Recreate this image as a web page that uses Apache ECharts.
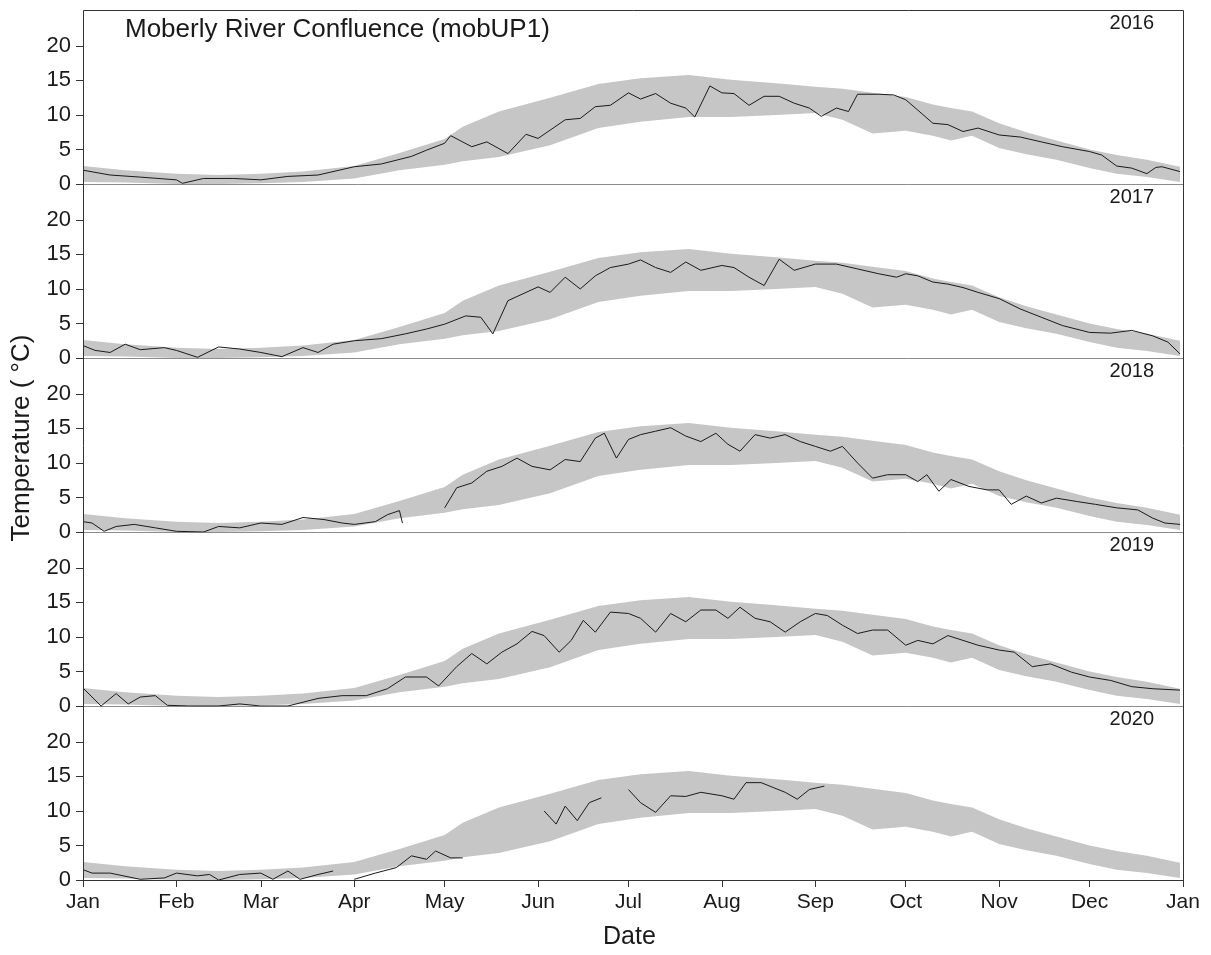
<!DOCTYPE html>
<html>
<head>
<meta charset="utf-8">
<script src="https://cdn.jsdelivr.net/npm/echarts@6/dist/echarts.min.js"></script>
<style>
html,body{margin:0;padding:0;background:#fff;}
#chart{width:1211px;height:955px;}
</style>
</head>
<body>
<div id="chart"></div>
<script>
// ---- data ----
const monthDays = [0,31,59,90,120,151,181,212,243,273,304,334,365];
const monthNames = ['Jan','Feb','Mar','Apr','May','Jun','Jul','Aug','Sep','Oct','Nov','Dec','Jan'];
const yTicks = [0,5,10,15,20];
const years = ['2016','2017','2018','2019','2020'];

// reference band (same in every panel), day of year
const bandDays = [0,14,31,45,59,73,90,105,120,126,138,155,171,185,201,215,230,243,252,262,273,282,288,295,304,313,323,334,343,353,364];
const bandLow  = [0.3,0.2,0.0,0.0,0.1,0.3,0.8,2.0,2.8,3.3,3.9,5.6,8.1,9.0,9.7,9.7,10.0,10.3,9.3,7.3,7.7,7.0,6.3,7.0,5.2,4.3,3.5,2.3,1.5,1.0,0.3];
const bandHigh = [2.6,2.0,1.5,1.3,1.5,1.8,2.6,4.5,6.5,8.3,10.5,12.5,14.5,15.3,15.8,15.1,14.6,14.1,13.8,13.2,12.6,11.5,11.0,10.5,8.8,7.5,6.3,5.0,4.2,3.5,2.5];

// observed daily temperature [day of year, °C]
const obs2016 = [[0,2.0],[9,1.3],[19,1.0],[31,0.6],[33,0.1],[40,0.8],[50,0.8],[59,0.6],[68,1.1],[78,1.3],[90,2.5],[99,2.9],[109,4.0],[114,4.9],[120,5.9],[122,7.0],[129,5.4],[134,6.1],[141,4.4],[147,7.2],[151,6.6],[160,9.3],[165,9.5],[170,11.2],[175,11.4],[181,13.2],[185,12.3],[190,13.1],[195,11.7],[200,11.0],[203,9.7],[208,14.2],[212,13.2],[216,13.1],[221,11.4],[226,12.7],[231,12.7],[236,11.7],[241,11.0],[245,9.8],[250,11.0],[254,10.5],[257,13.0],[264,13.0],[269,12.9],[273,12.2],[277,10.7],[282,8.8],[287,8.6],[292,7.6],[297,8.1],[304,7.1],[311,6.8],[318,6.1],[325,5.4],[334,4.7],[338,4.2],[343,2.6],[348,2.3],[353,1.5],[356,2.4],[358,2.5],[364,1.8]];
const obs2017 = [[0,1.8],[4,1.1],[9,0.8],[14,2.0],[19,1.2],[27,1.5],[31,1.1],[38,0.1],[45,1.6],[52,1.3],[59,0.8],[66,0.2],[73,1.5],[78,0.8],[83,2.0],[90,2.5],[99,2.8],[107,3.5],[114,4.2],[120,4.9],[127,6.1],[132,5.9],[136,3.5],[141,8.3],[147,9.5],[151,10.3],[155,9.5],[160,11.7],[165,10.0],[170,11.9],[175,13.1],[181,13.6],[185,14.2],[190,13.1],[195,12.4],[200,13.9],[205,12.7],[212,13.4],[216,13.1],[221,11.7],[226,10.5],[231,14.3],[236,12.7],[243,13.6],[250,13.6],[257,12.9],[264,12.2],[270,11.7],[273,12.2],[277,11.9],[282,11.0],[287,10.7],[292,10.2],[297,9.5],[304,8.6],[311,7.1],[318,5.9],[325,4.7],[334,3.7],[341,3.6],[348,4.0],[355,3.2],[360,2.3],[364,0.6]];
const obs2018 = [[0,1.5],[3,1.3],[7,0.1],[11,0.8],[17,1.1],[24,0.6],[31,0.1],[40,0.0],[45,0.8],[52,0.6],[59,1.3],[66,1.1],[73,2.1],[80,1.8],[86,1.3],[90,1.1],[97,1.5],[101,2.5],[105,3.1],[106,1.3],[107,null],[120,3.5],[124,6.4],[129,7.1],[134,8.8],[139,9.5],[144,10.7],[149,9.5],[155,9.0],[160,10.5],[165,10.2],[170,13.6],[173,14.3],[177,10.7],[181,13.4],[185,14.1],[190,14.6],[195,15.1],[200,13.9],[205,13.1],[210,14.3],[214,12.7],[218,11.7],[223,14.1],[228,13.6],[233,14.1],[238,13.1],[243,12.4],[248,11.7],[252,12.4],[257,10.0],[262,7.8],[267,8.3],[273,8.3],[277,7.3],[280,8.3],[284,5.9],[288,7.6],[294,6.6],[300,6.1],[304,6.1],[308,4.0],[313,5.2],[318,4.2],[323,4.9],[330,4.4],[336,4.0],[343,3.5],[350,3.2],[355,2.0],[359,1.3],[364,1.1]];
const obs2019 = [[0,2.6],[3,1.3],[6,0.0],[11,1.8],[15,0.3],[19,1.3],[24,1.5],[28,0.1],[35,0.0],[45,0.0],[52,0.3],[59,0.0],[68,0.0],[78,1.1],[86,1.5],[94,1.5],[101,2.5],[107,4.2],[114,4.2],[118,2.9],[124,5.7],[129,7.6],[134,6.1],[139,7.8],[144,9.0],[149,10.8],[153,10.2],[158,7.8],[162,9.5],[166,12.4],[170,10.7],[175,13.6],[181,13.4],[185,12.7],[190,10.7],[195,13.4],[200,12.2],[205,13.9],[210,13.9],[214,12.7],[218,14.3],[223,12.7],[228,12.2],[233,10.7],[238,12.2],[243,13.4],[247,13.1],[252,11.7],[257,10.5],[262,11.0],[267,11.0],[273,8.8],[277,9.5],[282,9.0],[287,10.2],[292,9.5],[297,8.8],[304,8.1],[309,7.8],[315,5.7],[321,6.1],[328,4.9],[334,4.2],[341,3.7],[348,2.8],[355,2.5],[364,2.3]];
const obs2020 = [[0,1.5],[3,1.0],[9,1.0],[19,0.1],[27,0.3],[31,1.0],[38,0.6],[42,0.8],[45,0.0],[52,0.8],[59,1.0],[63,0.1],[68,1.3],[72,0.1],[78,0.8],[83,1.3],[85,null],[90,0.1],[97,1.0],[104,1.8],[109,3.5],[114,3.0],[117,4.2],[122,3.2],[126,3.2],[127,null],[153,10.0],[157,8.1],[160,10.7],[164,8.6],[168,11.2],[172,11.9],[174,null],[181,13.1],[185,11.2],[190,9.8],[195,12.2],[200,12.1],[205,12.7],[212,12.2],[216,11.7],[220,14.1],[225,14.1],[229,13.4],[233,12.7],[237,11.7],[241,13.1],[246,13.6]];
const observed = [obs2016, obs2017, obs2018, obs2019, obs2020];

// ---- layout ----
const LEFT = 83, RIGHT = 28, TOP = 10, PANEL_H = 174;
const YMAX = 25.2;
const FONT = '"Liberation Sans", Arial, sans-serif';

function bandRenderItem(params, api) {
  if (params.dataIndex > 0) return;
  const pts = [];
  for (let k = 0; k < bandDays.length; k++) pts.push(api.coord([bandDays[k], bandHigh[k]]));
  for (let k = bandDays.length - 1; k >= 0; k--) pts.push(api.coord([bandDays[k], bandLow[k]]));
  return {type: 'polygon', shape: {points: pts}, style: {fill: '#c6c6c6', stroke: null}};
}

const grids = [], xAxes = [], yAxes = [], series = [], graphics = [];
years.forEach((yr, i) => {
  const last = i === years.length - 1;
  grids.push({left: LEFT, right: RIGHT, top: TOP + PANEL_H * i, height: PANEL_H, containLabel: false});
  xAxes.push({
    type: 'value', gridIndex: i, min: 0, max: 365,
    axisLine: {show: true, onZero: false, lineStyle: {color: last ? '#444' : '#8c8c8c', width: 1}},
    axisTick: {show: last, length: 7, lineStyle: {color: '#333'}, customValues: monthDays},
    axisLabel: {show: last, customValues: monthDays, margin: 12, fontSize: 21, color: '#1a1a1a', fontFamily: FONT,
      formatter: v => monthNames[monthDays.indexOf(v)]},
    splitLine: {show: false}
  });
  yAxes.push({
    type: 'value', gridIndex: i, min: 0, max: YMAX,
    axisLine: {show: false},
    axisTick: {show: true, length: 7, lineStyle: {color: '#333'}, customValues: yTicks},
    axisLabel: {show: true, customValues: yTicks, margin: 12, fontSize: 22, color: '#1a1a1a', fontFamily: FONT},
    splitLine: {show: false}
  });
  series.push({
    type: 'custom', xAxisIndex: i, yAxisIndex: i, silent: true, z: 1,
    data: [[bandDays[0], bandLow[0]]], renderItem: bandRenderItem
  });
  series.push({
    type: 'line', xAxisIndex: i, yAxisIndex: i, symbol: 'none', silent: true, z: 5,
    connectNulls: false,
    lineStyle: {color: '#1a1a1a', width: 1}, data: observed[i]
  });
  graphics.push({
    type: 'text', right: 1211 - 1154, top: TOP + PANEL_H * i + 3,
    style: {text: yr, fill: '#1a1a1a', font: '20px ' + FONT}
  });
});

graphics.push({
  type: 'rect', shape: {x: LEFT + 0.5, y: TOP + 0.5, width: 1211 - LEFT - RIGHT, height: PANEL_H * 5},
  style: {fill: 'none', stroke: '#333', lineWidth: 1}, z: 10
});
graphics.push({
  type: 'text', left: 125, top: 17,
  style: {text: 'Moberly River Confluence (mobUP1)', font: '26px ' + FONT, fill: '#1a1a1a'}
});
graphics.push({
  type: 'text', left: 603, top: 925,
  style: {text: 'Date', font: '25px ' + FONT, fill: '#1a1a1a'}
});
graphics.push({
  type: 'text', x: 22, y: 438, rotation: Math.PI / 2,
  style: {text: 'Temperature ( °C)', font: '26px ' + FONT, fill: '#1a1a1a', align: 'center', verticalAlign: 'middle'}
});

const chart = echarts.init(document.getElementById('chart'), null, {renderer: 'canvas'});
chart.setOption({
  animation: false,
  backgroundColor: '#fff',
  grid: grids, xAxis: xAxes, yAxis: yAxes, series: series,
  graphic: graphics
});
</script>
</body>
</html>
